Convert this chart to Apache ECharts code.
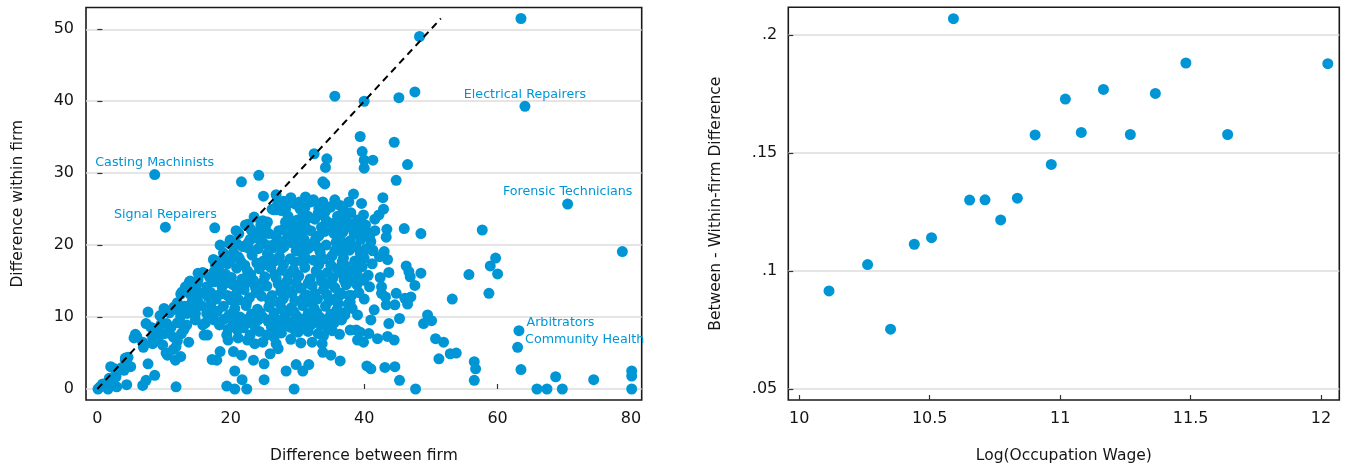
<!DOCTYPE html>
<html>
<head>
<meta charset="utf-8">
<script src="https://cdn.jsdelivr.net/npm/echarts@6/dist/echarts.min.js"></script>
<style>
  html, body { margin: 0; padding: 0; background: #ffffff; }
  #chart { width: 1346px; height: 470px; }
</style>
</head>
<body>
<div id="chart"></div>
<script>
// Occupation-level differences: [between-firm difference, within-firm difference]
const occupationPoints = [
  [63.5,51.5],[48.3,49.0],[35.6,40.7],[40.0,40.0],[45.2,40.5],[47.6,41.3],
  [39.4,35.1],[44.5,34.3],[32.5,32.7],[34.4,32.0],[34.2,30.8],[39.7,33.0],[40.0,31.8],[41.3,31.8],[40.0,30.7],[46.5,31.2],
  [21.6,28.8],[24.2,29.7],[33.8,28.8],[34.1,28.5],[44.8,29.0],
  [17.6,22.4],[57.7,22.1],[48.5,21.6],[46.0,22.3],[78.7,19.1],[59.7,18.2],[58.9,17.1],[60.0,16.0],[55.7,15.9],[58.7,13.3],[53.2,12.5],[48.5,16.1],[47.6,14.4],
  [63.5,2.7],[65.9,0],[67.4,0],[69.7,0],[68.7,1.7],[74.4,1.3],[80.1,2.5],[80.1,1.8],[80.1,0],
  [56.5,3.8],[56.7,2.8],[56.5,1.2],[52.9,4.9],[53.8,5.0],[51.2,4.2],[50.7,7.0],[51.9,6.5],[50.1,9.5],[49.5,10.3],[48.9,9.1],
  [47.7,0],[45.3,1.2],[44.6,3.1],[43.1,3.0],[41.0,2.8],[40.4,3.2],[36.4,3.9],[35.0,4.7],[33.8,5.1],[31.7,3.4],[30.8,2.5],[29.8,3.4],[28.3,2.5],[29.5,0],
  [25.0,1.3],[25.0,3.5],[23.4,4.0],[22.4,0],[20.6,0],[19.4,0.4],[21.7,1.3],[20.6,2.5],[21.6,4.7],[20.4,5.2],[18.4,5.2],[17.9,4.0],[17.2,4.1],
  [11.8,0.3],[8.6,1.9],[7.6,3.5],[7.3,1.2],[6.8,0.5],[4.4,0.6],[2.9,0.3],[1.6,0],[0.1,0],[0.8,0.7],[2.0,3.1],[4.2,4.0],[5.0,3.1],[4.0,2.6],[2.8,1.7],[2.1,1.1],
  [11.7,4.0],[12.5,4.5],[10.5,4.7],[11.4,5.5],[6.9,5.8],[5.5,7.1],[5.7,7.6],[7.3,9.1],[7.6,10.7],[8.5,8.4],[8.3,6.3],[9.1,6.8],[10.1,7.7],[10.4,9.1],
  [10.0,11.2],[11.4,7.2],[12.6,7.7],[13.7,6.5],[13.4,8.9],[12.5,10.1],[11.5,11.4],[12.7,13.5],[13.6,14.4],[14.2,12.1],[14.8,13.7],[15.1,16.1],[13.8,14.9],
  [14.7,9.6],[15.8,8.9],[16.0,7.5],[16.5,7.5],[14.7,10.5],[15.4,13.3],[16.6,12.8],[16.4,10.5],[17.0,11.7],[17.5,14.9],[17.7,17.2],
  [18.4,20.0],[19.4,18.2],[19.9,20.7],[20.8,22.0],[21.1,18.4],[22.4,19.7],[22.6,22.9],[23.5,23.9],[23.4,21.2],[24.9,26.8],[24.8,23.4],[25.2,22.6],
  [26.8,27.0],[26.5,24.9],[27.6,24.8],[27.1,26.0],[28.2,24.9],[29.7,25.7],[30.4,25.0],[31.2,26.7],[32.0,26.0],[31.5,23.7],[33.1,24.4],[35.0,25.3],
  [36.9,24.9],[38.4,27.1],[37.7,26.0],[39.6,25.8],[39.9,24.2],[42.8,26.6],[42.9,25.0],[42.2,24.2],[43.4,22.2],[43.3,21.1],[41.6,22.0],[40.8,21.2],
  [39.7,21.9],[41.3,19.3],[43.0,19.1],[43.5,18.0],[42.3,18.4],[46.3,17.1],[46.7,16.3],[46.9,15.6],[43.7,16.2],[42.4,15.5],[40.6,15.8],[39.9,15.1],
  [39.0,15.8],[39.2,13.4],[42.6,14.2],[42.6,13.3],[43.2,12.8],[44.8,13.3],[46.1,12.6],[47.0,12.8],[46.5,11.8],[44.6,11.7],[43.3,11.7],[45.3,9.8],
  [43.7,9.1],[41.0,9.6],[39.0,10.3],[38.2,11.2],[37.9,12.1],[36.3,13.0],[37.1,10.3],[36.6,9.6],[37.9,8.2],[38.8,8.2],[39.4,7.9],[40.7,7.7],
  [39.0,6.8],[39.9,6.5],[42.0,7.0],[43.5,7.3],[44.5,6.8],
  [33.7,6.3],[32.2,6.5],[33.1,7.7],[33.4,8.9],[32.0,8.9],[30.8,8.9],[28.9,8.6],[27.1,9.6],[26.8,8.4],[26.5,7.2],[26.8,6.3],[27.1,5.6],[25.9,4.9],
  [25.4,7.5],[23.6,6.3],[22.9,7.5],[21.1,7.1],[19.6,6.8],[19.4,7.5],[21.0,8.2],[22.1,9.1],[24.1,9.6],[18.3,8.9],[17.5,9.6],[16.8,10.5],
  [24.5,22.8],[25.5,23.2],[26.9,24.9],[28.0,22.3],[29.3,22.0],[30.3,22.8],[31.6,24.0],[32.6,23.6],[33.6,22.5],[34.3,23.4],[35.1,23.0],[36.2,22.6],
  [37.3,23.5],[37.6,22.6],[38.3,22.9],[29.2,21.2],[30.6,21.5],[31.7,20.1],[33.2,21.3],[34.1,21.9],[35.5,21.6],[36.8,21.8],[38.5,21.6],[39.5,20.8],
  [40.6,21.7],[22.6,20.3],[23.6,21.0],[24.5,20.6],[25.7,21.6],[26.4,20.0],[27.2,22.0],[28.5,21.6],
  [18.9,18.9],[19.5,17.4],[20.4,19.0],[21.3,18.1],[22.1,17.2],[23.2,18.6],[24.1,19.5],[24.9,17.8],[25.5,18.8],[26.3,19.6],[27.3,18.4],[28.0,19.8],
  [28.9,18.1],[29.8,19.2],[30.8,18.6],[31.6,19.5],[32.4,17.9],[33.4,19.0],[34.3,20.0],[35.2,18.5],[36.0,19.6],[36.9,18.2],[37.8,19.3],[38.6,17.8],
  [39.4,18.9],[40.3,19.5],[41.3,19.2],[35.0,17.2],[36.4,16.9],[37.6,17.0],[38.2,16.2],
  [17.5,16.3],[18.4,15.2],[19.2,16.0],[20.1,15.5],[20.9,16.8],[21.7,15.3],[22.5,16.4],[23.4,15.1],[24.3,16.7],[25.1,15.6],[26.0,16.9],[26.8,15.4],
  [27.7,16.5],[28.5,15.1],[29.4,16.6],[30.2,15.7],[31.1,16.9],[31.9,15.3],[32.8,16.4],[33.6,15.0],[34.5,16.2],[35.3,15.4],[36.1,16.5],[37.0,15.1],[37.9,16.0],
  [17.0,13.4],[17.8,12.5],[18.7,14.2],[19.5,13.0],[20.3,14.5],[21.2,12.4],[22.0,13.8],[22.8,12.7],[23.7,14.1],[24.6,12.9],[25.4,14.3],[26.2,13.0],
  [27.1,14.6],[27.9,12.6],[28.8,13.7],[29.6,12.3],[30.5,14.0],[31.3,13.1],[32.2,14.4],[33.0,12.5],[33.9,13.8],[34.7,12.2],[35.6,14.1],[36.5,13.3],
  [37.3,14.5],[38.1,13.0],
  [18.0,10.8],[18.9,11.5],[19.7,10.2],[20.6,11.2],[21.4,10.0],[22.3,11.6],[23.1,10.4],[24.0,11.1],[24.8,10.0],[25.7,11.4],[26.5,10.6],[27.4,11.8],
  [28.2,10.3],[29.1,11.3],[29.9,10.1],[30.8,11.6],[31.6,10.5],[32.5,11.2],[33.3,10.0],[34.2,11.5],[35.0,10.4],[35.9,11.0],[36.9,10.6],
  [19.6,8.3],[20.8,9.3],[21.9,8.5],[23.0,9.2],[24.3,8.0],[25.6,9.4],[27.6,7.8],[28.6,9.3],[29.6,8.2],[30.6,9.7],[31.6,8.0],[32.6,9.4],[34.5,8.5],
  [35.5,9.2],[36.3,7.6],
  [21.0,14.0],[22.4,14.8],[23.8,13.4],[25.0,17.3],[26.6,17.8],[27.5,13.6],[28.6,16.0],[29.8,14.7],[30.9,17.6],[32.0,12.0],[33.2,17.3],[34.0,14.8],
  [35.8,12.6],[36.6,19.1],[24.0,21.8],[26.0,12.0],[31.0,20.8],[27.8,20.5],[20.0,12.4],[19.0,14.8],[21.8,19.8],[35.8,20.4],[33.8,24.2],[30.0,23.5],
  [32.0,22.0],[28.6,24.0],[29.4,9.3],[37.6,11.8],[38.9,14.5],[39.7,17.0],[40.2,22.8],[41.0,20.5],[38.8,19.8],[38.0,24.5],[34.8,25.3],[23.0,19.3],
  [18.5,17.8],[19.8,20.2],[21.2,21.6],[22.2,22.8],
  [12.5,13.2],[13.2,14.2],[13.9,15.0],[14.4,14.4],[15.1,15.2],[15.8,16.2],[12.0,12.0],[11.2,11.0],[10.8,10.6],[12.3,10.8],[9.6,9.1],[9.0,8.1],
  [8.3,7.1],[6.8,6.5],[5.9,7.3],[4.6,4.4],[4.2,4.3],[3.7,3.0],[2.6,2.8],[1.8,1.5],[1.2,0.7],[0.4,0.3],[16.2,13.3],[15.0,12.4],[14.0,11.7],
  [13.1,11.5],[16.4,14.2],[11.0,8.5],[12.0,9.2],[9.8,6.1],[13.0,8.3],[11.8,5.9],[10.3,5.0],
  [25.3,23.0],[24.8,21.5],[26.2,25.0],[27.0,25.6],[28.7,25.8],[29.3,22.8],[30.3,26.0],[31.1,25.2],[32.4,26.3],[33.2,25.1],[36.0,24.0],[36.5,23.4],[37.2,22.4],
  [23.0,22.2],[25.0,20.2],[26.8,21.2],[28.2,23.2],[29.8,20.5],[31.2,22.5],[32.7,20.8],[34.8,22.3],[36.3,21.0],[37.9,20.6],[39.2,22.6],
  [20.9,20.2],[22.9,20.8],[25.9,19.9],[27.6,19.5],[29.2,20.3],[30.4,19.9],[32.9,19.8],[35.6,19.2],[37.2,20.3],[40.0,18.2],
  [19.9,17.8],[21.6,17.6],[23.9,17.5],[25.9,18.2],[27.9,17.3],[29.6,17.7],[31.2,18.2],[33.9,18.1],[36.7,17.7],[38.9,17.3],[41.2,17.4],
  [18.2,16.6],[19.7,14.8],[21.4,14.6],[23.0,15.9],[24.8,14.8],[26.6,15.9],[28.1,14.6],[29.9,15.9],[31.6,14.7],[33.4,15.8],[35.1,14.6],[36.8,15.9],
  [38.4,15.0],[40.8,14.2],
  [18.4,13.2],[20.8,13.2],[22.4,12.1],[24.2,13.6],[25.8,12.4],[27.5,12.2],[29.2,13.3],[30.9,12.6],[32.6,13.3],[34.4,13.1],[36.1,11.9],[37.7,13.0],
  [40.0,12.5],[41.5,11.0],
  [19.0,9.7],[20.2,10.5],[22.7,9.8],[24.4,10.6],[26.0,9.7],[27.8,11.0],[29.5,10.7],[31.2,9.8],[32.9,10.6],[34.6,9.8],[36.2,10.2],
  [20.3,8.9],[23.7,8.4],[26.1,8.6],[28.0,8.8],[30.1,7.9],[33.9,7.4],[35.2,8.1],[22.5,6.8],[24.8,6.5],[29.0,6.9],[30.5,6.4],
  [13.5,10.5],[14.6,11.0],[15.6,11.6],[16.2,9.2],[15.0,14.7],[16.8,15.6],[17.4,18.0],[12.0,6.7],[13.9,13.2],[10.7,7.8],[9.4,10.2],[8.0,8.6],
  [27.9,26.1],[29.0,26.6],[30.9,24.3],[33.8,26.0],[35.6,26.3],[36.4,25.5],[34.2,24.7],[37.5,24.2],[39.0,23.5],[41.6,23.6]
];

// Named occupations
const labeledNames = ['Casting Machinists', 'Signal Repairers', 'Electrical Repairers', 'Forensic Technicians', 'Arbitrators', 'Community Health'];
const labeledBetween = [8.6, 10.2, 64.1, 70.5, 63.2, 63.0];
const labeledWithin = [29.8, 22.5, 39.3, 25.7, 8.1, 5.8];

// 45-degree reference line endpoints
const diagonalEnds = [0, 51.5];

// Right panel: gap by occupation wage
const logWage = [10.114, 10.262, 10.350, 10.441, 10.507, 10.591, 10.653, 10.712, 10.772, 10.836,
                 10.904, 10.966, 11.020, 11.081, 11.166, 11.269, 11.365, 11.482, 11.642, 12.026];
const wageGap = [0.0915, 0.1027, 0.0753, 0.1113, 0.1141, 0.2069, 0.1300, 0.1301, 0.1216, 0.1308,
                 0.1576, 0.1451, 0.1728, 0.1587, 0.1769, 0.1578, 0.1752, 0.1881, 0.1578, 0.1878];

// Tick values
const leftXTicks = [0, 20, 40, 60, 80];
const leftYTicks = [0, 10, 20, 30, 40, 50];
const rightXTicks = [10, 10.5, 11, 11.5, 12];
const rightYTicks = [0.05, 0.1, 0.15, 0.2];

const FONT = 'DejaVu Sans';
const DOT = '#0096d6';
const TEXT = '#151515';

// labels to the right of the point instead of above it
const sideLabels = { 'Arbitrators': true, 'Community Health': true };

function axis(cfg) {
  return {
    type: 'value',
    gridIndex: cfg.grid,
    min: cfg.min,
    max: cfg.max,
    axisLine: { show: false },
    axisTick: { show: true, inside: true, length: 5, customValues: cfg.ticks, lineStyle: { color: '#333', width: 1.2 } },
    axisLabel: {
      customValues: cfg.ticks,
      formatter: cfg.fmt || (v => String(v)),
      fontFamily: FONT, fontSize: 16, color: TEXT, margin: cfg.margin
    },
    splitLine: { show: cfg.split, lineStyle: { color: '#dcdcdc', width: 1.5 } },
    name: cfg.name,
    nameLocation: 'middle',
    nameGap: cfg.nameGap,
    nameTextStyle: { fontFamily: FONT, fontSize: 15.5, color: TEXT }
  };
}

const stripZero = v => {
  const s = String(Math.round(v * 100) / 100);
  return s.startsWith('0.') ? s.slice(1) : s;
};

const option = {
  animation: false,
  backgroundColor: '#ffffff',
  textStyle: { fontFamily: FONT },
  grid: [
    { left: 86, top: 7.5, width: 555.7, height: 392.5, show: true, borderColor: '#1a1a1a', borderWidth: 1.6, backgroundColor: 'transparent' },
    { left: 788.3, top: 7.3, width: 551, height: 392.7, show: true, borderColor: '#1a1a1a', borderWidth: 1.6, backgroundColor: 'transparent' }
  ],
  xAxis: [
    axis({ grid: 0, min: -1.7, max: 81.6, ticks: leftXTicks, split: false, margin: 11, name: 'Difference between firm', nameGap: 48 }),
    axis({ grid: 1, min: 9.958, max: 12.07, ticks: rightXTicks, split: false, margin: 11, name: 'Log(Occupation Wage)', nameGap: 48 })
  ],
  yAxis: [
    axis({ grid: 0, min: -1.53, max: 53.03, ticks: leftYTicks, split: true, margin: 12, name: 'Difference within firm', nameGap: 60 }),
    axis({ grid: 1, min: 0.0453, max: 0.2117, ticks: rightYTicks, split: true, margin: 11, fmt: stripZero, name: 'Between - Within-firm Difference', nameGap: 64 })
  ],
  series: [
    {
      type: 'scatter', xAxisIndex: 0, yAxisIndex: 0, z: 2,
      symbol: 'circle', symbolSize: 11,
      itemStyle: { color: DOT, opacity: 1 },
      data: occupationPoints
    },
    {
      type: 'scatter', xAxisIndex: 0, yAxisIndex: 0, z: 3,
      symbol: 'circle', symbolSize: 11,
      itemStyle: { color: DOT, opacity: 1 },
      data: labeledNames.map((n, i) => ({
        name: n,
        value: [labeledBetween[i], labeledWithin[i]],
        label: sideLabels[n]
          ? { show: true, position: 'right', distance: 2, offset: [0, -8] }
          : { show: true, position: 'top', distance: 0 }
      })),
      label: { formatter: '{b}', color: DOT, fontFamily: FONT, fontSize: 12.7 }
    },
    {
      type: 'line', xAxisIndex: 0, yAxisIndex: 0, z: 4,
      symbol: 'none',
      lineStyle: { color: '#000', width: 2, type: [7, 5] },
      data: diagonalEnds.map(v => [v, v])
    },
    {
      type: 'scatter', xAxisIndex: 1, yAxisIndex: 1, z: 2,
      symbol: 'circle', symbolSize: 11,
      itemStyle: { color: DOT, opacity: 1 },
      data: logWage.map((w, i) => [w, wageGap[i]])
    }
  ]
};

const chart = echarts.init(document.getElementById('chart'), null, { renderer: 'canvas' });
chart.setOption(option);
</script>
</body>
</html>
